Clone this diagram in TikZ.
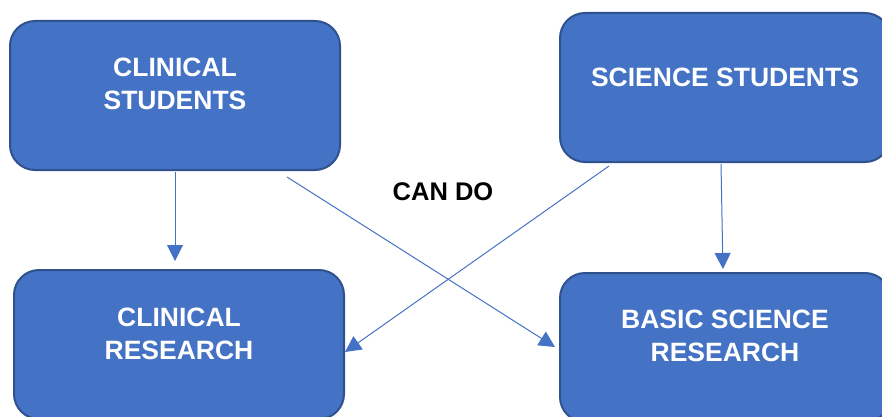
\documentclass[tikz,border=0pt]{standalone}
\usepackage{fontspec}
\setmainfont{Liberation Sans}
\usetikzlibrary{arrows.meta}
\definecolor{boxblue}{HTML}{4472C4}
\definecolor{boxedge}{HTML}{2F528F}
\begin{document}
\begin{tikzpicture}[
        x=1pt, y=1pt,
        group/.style={rectangle, rounded corners=25pt, draw=boxedge, line width=2pt, fill=boxblue, minimum width=330pt, minimum height=149pt},
        label text/.style={text=white, align=center, font=\fontsize{26.5}{33}\selectfont\bfseries},
        arrow/.style={-{Triangle[length=16pt,width=16pt]}, draw=boxblue, line width=1pt}
    ]
        \useasboundingbox (0,0) rectangle (882,416);
        \clip (0,0) rectangle (882,416);

        % Top row - students
        \node[group] (clinstud) at (175, 320.5) {};
        \node[label text] (clinstudtext) at ([yshift=12]clinstud.center) {CLINICAL\\STUDENTS};

        \node[group] (scistud) at (725, 328.5) {};
        \node[label text] (scistudtext) at ([yshift=10.5]scistud.center) {SCIENCE STUDENTS};

        % Bottom row - research
        \node[group] (clinres) at (179, 71.5) {};
        \node[label text] (clinrestext) at ([yshift=10.5]clinres.center) {CLINICAL\\RESEARCH};

        \node[group] (basicres) at (725, 68.5) {};
        \node[label text] (basicrestext) at ([yshift=11.5]basicres.center) {BASIC SCIENCE\\RESEARCH};

        % Middle label
        \node[font=\fontsize{25.5}{30}\selectfont\bfseries] (cando) at (443, 224.5) {CAN DO};

        % Arrows
        \draw[arrow, shorten >=8pt] ([yshift=-1]clinstud.south) -- (clinstud.south |- clinres.north);
        \draw[arrow] ([shift={(112,-6)}]clinstud.south) -- ([shift={(-4,0.5)}]basicres.west);
        \draw[arrow] ([shift={(-116,-3)}]scistud.south) -- ([shift={(0,-7.5)}]clinres.east);
        \draw[arrow, shorten >=3pt] ([shift={(-4,-1)}]scistud.south) -- ([xshift=-2]basicres.north);

    \end{tikzpicture}
\end{document}
